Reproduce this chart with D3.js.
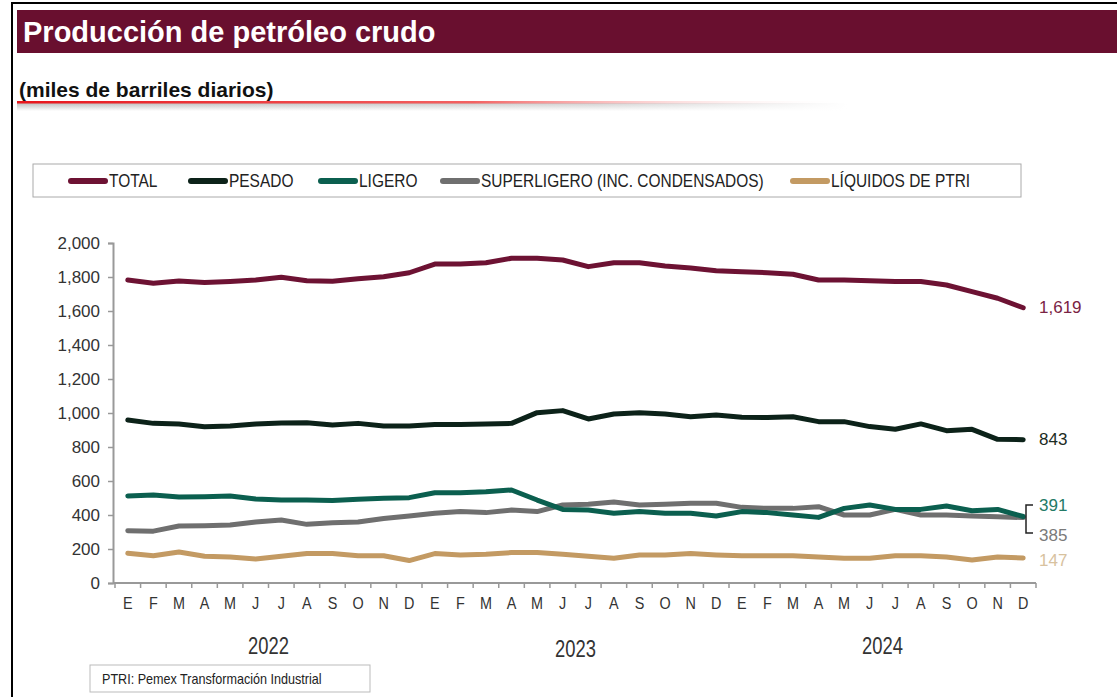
<!DOCTYPE html>
<html>
<head>
<meta charset="utf-8">
<script src="https://cdn.jsdelivr.net/npm/d3@7"></script>
<style>
  body { margin: 0; background: #fff; }
  svg { display: block; font-family: "Liberation Sans", Arial, sans-serif; }
</style>
</head>
<body>
<div id="chart"></div>
<script>
// DATA
const months = ["E","F","M","A","M","J","J","A","S","O","N","D",
                "E","F","M","A","M","J","J","A","S","O","N","D",
                "E","F","M","A","M","J","J","A","S","O","N","D"];
const years = ["2022", "2023", "2024"];
const yTicks = [0, 200, 400, 600, 800, 1000, 1200, 1400, 1600, 1800, 2000];

const total = [1782,1763,1777,1767,1773,1782,1798,1778,1775,1790,1802,1825,
               1876,1876,1884,1910,1910,1900,1861,1884,1884,1865,1853,1837,
               1831,1825,1816,1782,1782,1778,1773,1773,1753,1714,1675,1619];
const pesado = [959,939,935,919,923,935,941,943,929,939,923,923,
                933,933,935,939,1002,1014,965,994,1002,994,978,988,
                975,973,978,949,949,920,904,936,896,904,845,843];
const ligero = [512,518,506,508,512,494,488,488,486,492,498,502,
                531,531,537,547,488,433,429,410,420,410,410,394,
                420,414,400,386,439,459,433,433,453,425,433,391];
const superligero = [308,305,335,337,341,359,371,345,354,359,380,394,
                     410,420,414,429,420,459,463,476,459,463,469,469,
                     445,439,439,449,400,400,433,400,400,394,390,385];
const liquidos = [175,160,182,157,153,141,157,173,173,160,160,132,
                  173,165,169,179,179,169,157,145,165,165,173,165,
                  160,160,160,153,145,145,160,160,153,135,153,147];

const seriesNames = ["TOTAL", "PESADO", "LIGERO", "SUPERLIGERO (INC. CONDENSADOS)", "LÍQUIDOS DE PTRI"];
const seriesValues = [total, pesado, ligero, superligero, liquidos];
const seriesColors = ["#6d1233", "#0c2219", "#0b5f4f", "#6f6f6f", "#c39a63"];
const endLabelColors = ["#7a2344", "#1b2b23", "#237a66", "#7a7a7a", "#d8c29f"];

// LAYOUT
const width = 1117;
const height = 697;
const maroon = "#690f2f";
const plot = { left: 113, right: 1036, top: 243, bottom: 583 };

const svg = d3.select("#chart")
  .append("svg")
  .attr("width", width)
  .attr("height", height);

// no narrow font installed, so squeeze the regular one horizontally
const narrow = (g, x, y, k) => g.append("text")
  .attr("transform", `translate(${x},${y}) scale(${k},1)`);

// outer frame
svg.append("rect")
  .attr("x", 12).attr("y", 3)
  .attr("width", width).attr("height", height)
  .attr("fill", "none")
  .attr("stroke", "#000")
  .attr("stroke-width", 2);

// title bar
svg.append("rect")
  .attr("x", 17).attr("y", 10)
  .attr("width", width - 17).attr("height", 43)
  .attr("fill", maroon);
svg.append("text")
  .attr("x", 23).attr("y", 42)
  .attr("fill", "#fff")
  .style("font-size", "29px")
  .style("font-weight", "bold")
  .text("Producción de petróleo crudo");

// subtitle + red rule
const defs = svg.append("defs");
const redGrad = defs.append("linearGradient").attr("id", "redGrad");
redGrad.append("stop").attr("offset", "0%").attr("stop-color", "#e8141b").attr("stop-opacity", 1);
redGrad.append("stop").attr("offset", "55%").attr("stop-color", "#f03a3a").attr("stop-opacity", 0.8);
redGrad.append("stop").attr("offset", "100%").attr("stop-color", "#ffffff").attr("stop-opacity", 0);
const grayGrad = defs.append("linearGradient").attr("id", "grayGrad").attr("x1", 0).attr("x2", 0).attr("y1", 0).attr("y2", 1);
grayGrad.append("stop").attr("offset", "0%").attr("stop-color", "#bdbdbd");
grayGrad.append("stop").attr("offset", "100%").attr("stop-color", "#ffffff");
const grayFade = defs.append("linearGradient").attr("id", "grayFade");
grayFade.append("stop").attr("offset", "0%").attr("stop-color", "#fff").attr("stop-opacity", 0);
grayFade.append("stop").attr("offset", "70%").attr("stop-color", "#fff").attr("stop-opacity", 0.3);
grayFade.append("stop").attr("offset", "100%").attr("stop-color", "#fff").attr("stop-opacity", 1);

svg.append("rect")
  .attr("x", 17).attr("y", 103)
  .attr("width", 830).attr("height", 8)
  .attr("fill", "url(#grayGrad)");
svg.append("rect")
  .attr("x", 17).attr("y", 103)
  .attr("width", 830).attr("height", 8)
  .attr("fill", "url(#grayFade)");
svg.append("rect")
  .attr("x", 17).attr("y", 101)
  .attr("width", 830).attr("height", 2.5)
  .attr("fill", "url(#redGrad)");
svg.append("text")
  .attr("x", 19).attr("y", 97)
  .attr("fill", "#111")
  .style("font-size", "21px")
  .style("font-weight", "bold")
  .text("(miles de barriles diarios)");

// legend
svg.append("rect")
  .attr("x", 33).attr("y", 164)
  .attr("width", 988).attr("height", 33)
  .attr("fill", "#fff")
  .attr("stroke", "#aaa")
  .attr("stroke-width", 1);
const legendX = [68, 188, 318, 440, 790];
seriesNames.forEach((name, i) => {
  svg.append("line")
    .attr("x1", legendX[i] + 3).attr("x2", legendX[i] + 37)
    .attr("y1", 181).attr("y2", 181)
    .attr("stroke", seriesColors[i])
    .attr("stroke-width", 6)
    .attr("stroke-linecap", "round");
  narrow(svg, legendX[i] + 41, 181, 0.86)
    .attr("dominant-baseline", "central")
    .attr("fill", "#222")
    .style("font-size", "18px")
    .text(name);
});

// scales
const idx = d3.range(months.length);
const x = d3.scalePoint()
  .domain(idx)
  .range([plot.left + 2, plot.right])
  .padding(0.5);
const xBand = d3.scaleBand()
  .domain(idx)
  .range([plot.left + 2, plot.right]);
const y = d3.scaleLinear()
  .domain([0, 2000])
  .range([plot.bottom, plot.top]);

// y axis
const yAxis = svg.append("g")
  .attr("transform", `translate(${plot.left},0)`)
  .call(d3.axisLeft(y).tickValues(yTicks).tickSize(5).tickPadding(8).tickFormat(d3.format(",")));
yAxis.select(".domain").attr("stroke", "#999").attr("stroke-width", 2);
yAxis.selectAll(".tick line").attr("stroke", "#999").attr("stroke-width", 1.5);
yAxis.selectAll(".tick text")
  .attr("fill", "#333")
  .style("font-size", "17px")
  .style("font-family", "'Liberation Sans', Arial, sans-serif");

// x axis: line, ticks between months, month labels
svg.append("line")
  .attr("x1", plot.left).attr("x2", plot.right)
  .attr("y1", plot.bottom).attr("y2", plot.bottom)
  .attr("stroke", "#999").attr("stroke-width", 2);
svg.append("g")
  .selectAll("line")
  .data(idx.concat([months.length]))
  .join("line")
  .attr("x1", (d) => (d < months.length ? xBand(d) : plot.right))
  .attr("x2", (d) => (d < months.length ? xBand(d) : plot.right))
  .attr("y1", plot.bottom)
  .attr("y2", plot.bottom + 5)
  .attr("stroke", "#999")
  .attr("stroke-width", 1.5);
const monthG = svg.append("g");
idx.forEach((d) => {
  narrow(monthG, x(d), 603, 0.9)
    .attr("text-anchor", "middle")
    .attr("dominant-baseline", "central")
    .attr("fill", "#333")
    .style("font-size", "16px")
    .text(months[d]);
});

// year labels (centred under each group of 12)
const yearY = [646, 649, 646];
years.forEach((yr, i) => {
  narrow(svg, (x(i * 12 + 5) + x(i * 12 + 6)) / 2, yearY[i], 0.8)
    .attr("text-anchor", "middle")
    .attr("dominant-baseline", "central")
    .attr("fill", "#333")
    .style("font-size", "23px")
    .text(yr);
});

// lines
const line = d3.line()
  .x((d, i) => x(i))
  .y((d) => y(d))
  .curve(d3.curveLinear);

// draw bottom series first so TOTAL sits on top like the original
[4, 3, 2, 1, 0].forEach((s) => {
  svg.append("path")
    .datum(seriesValues[s])
    .attr("fill", "none")
    .attr("stroke", seriesColors[s])
    .attr("stroke-width", 5)
    .attr("stroke-linejoin", "round")
    .attr("stroke-linecap", "round")
    .attr("d", line);
});

// end labels
const last = months.length - 1;
const labelX = 1039;
const endLabelY = [y(total[last]), y(pesado[last]), 505, 535, y(liquidos[last]) + 2];
seriesValues.forEach((vals, i) => {
  svg.append("text")
    .attr("x", labelX)
    .attr("y", endLabelY[i])
    .attr("dominant-baseline", "central")
    .attr("fill", endLabelColors[i])
    .style("font-size", "17px")
    .text(d3.format(",")(vals[last]));
});

// bracket joining 391 / 385
svg.append("path")
  .attr("d", `M1033,505 H1026 V533 H1033`)
  .attr("fill", "none")
  .attr("stroke", "#222")
  .attr("stroke-width", 1.5);

// footer note
svg.append("rect")
  .attr("x", 90).attr("y", 665)
  .attr("width", 280).attr("height", 27)
  .attr("fill", "#fff")
  .attr("stroke", "#bbb");
narrow(svg, 102, 684, 0.9)
  .attr("fill", "#222")
  .style("font-size", "14px")
  .text("PTRI: Pemex Transformación Industrial");
</script>
</body>
</html>
